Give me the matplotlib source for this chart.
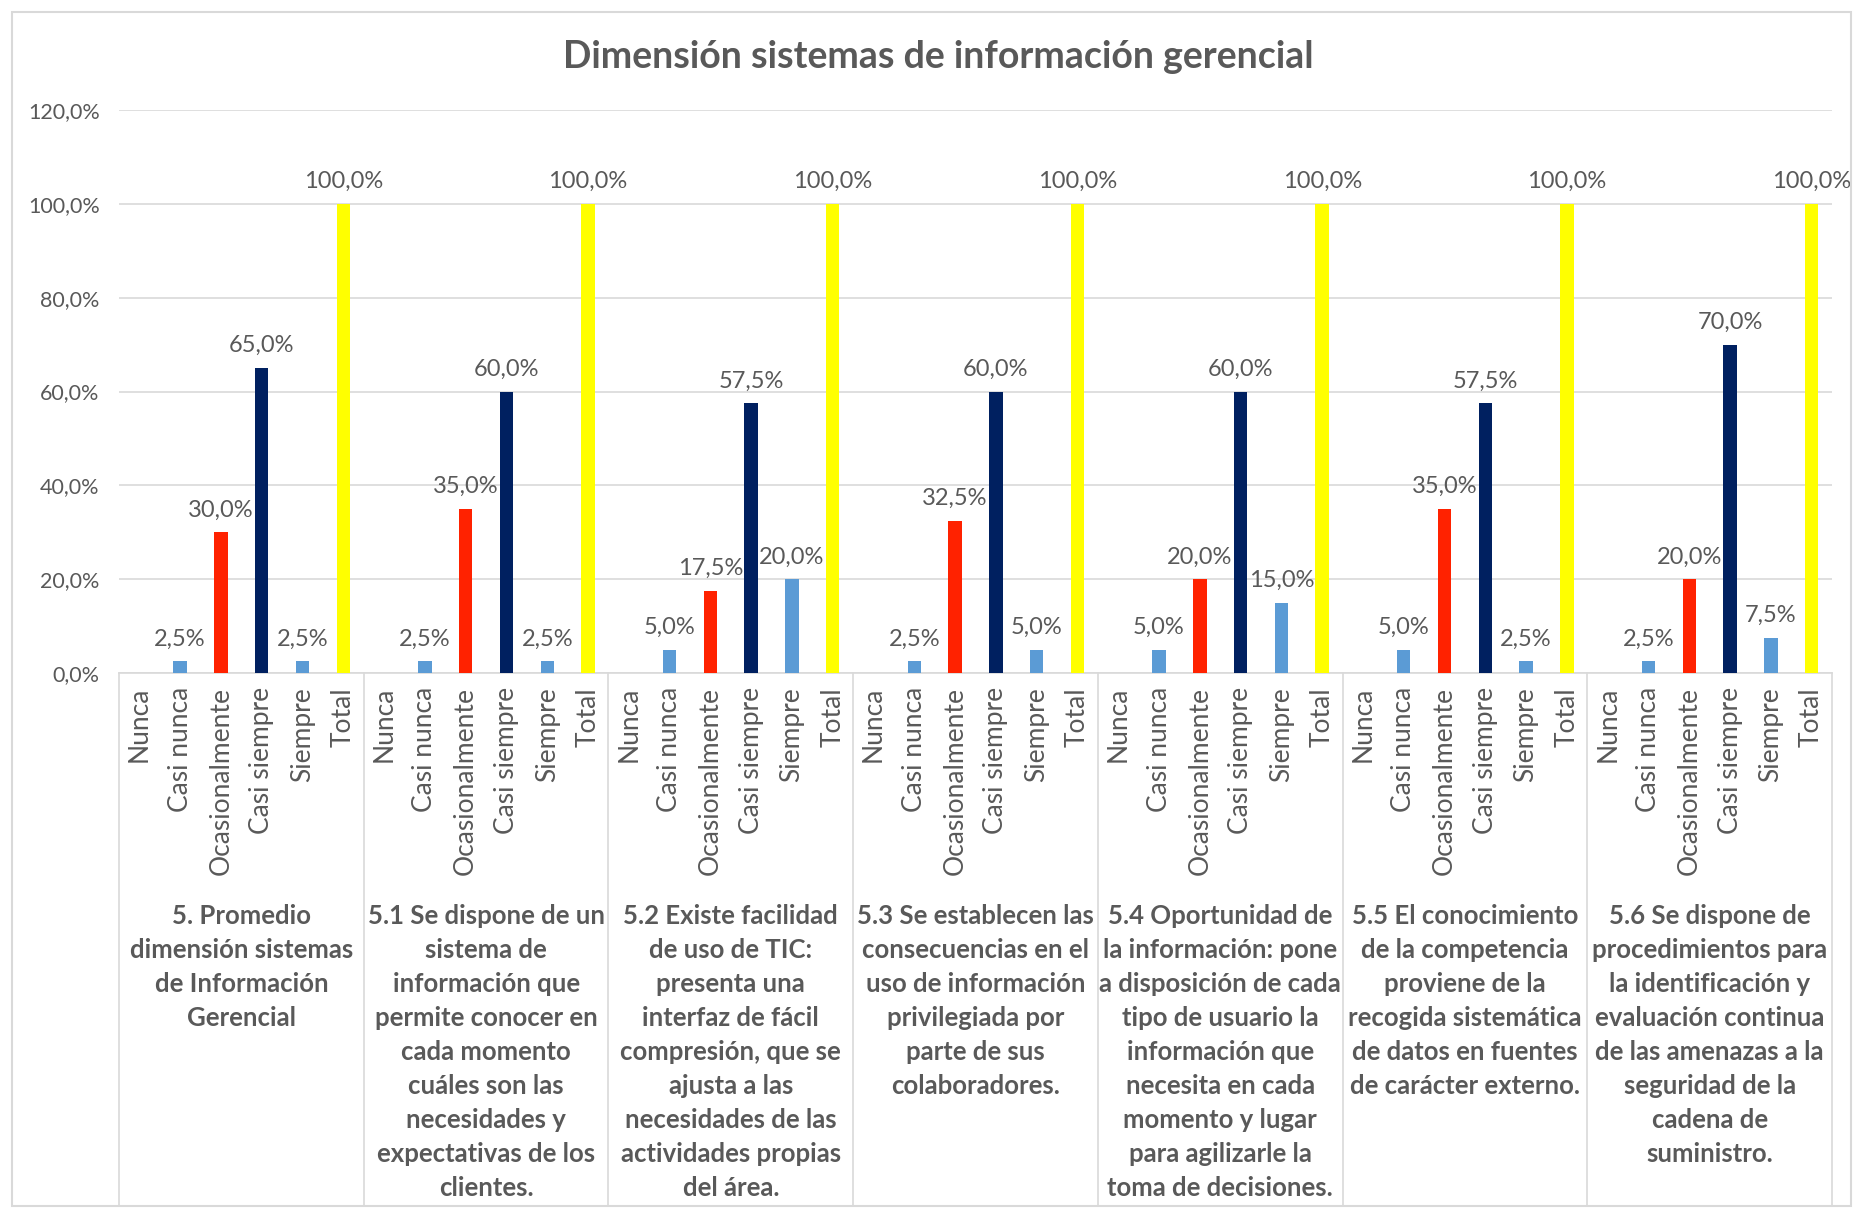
import matplotlib
matplotlib.use('agg')
import matplotlib.pyplot as plt
import matplotlib.transforms as mtransforms
from matplotlib.patches import Rectangle
import numpy as np

plt.rcParams['font.family'] = ['Lato', 'DejaVu Sans']

categories = ["Nunca", "Casi nunca", "Ocasionalmente", "Casi siempre", "Siempre", "Total"]

group_labels = [
    "5. Promedio\ndimensión sistemas\nde Información\nGerencial",
    "5.1 Se dispone de un\nsistema de\ninformación que\npermite conocer en\ncada momento\ncuáles son las\nnecesidades y\nexpectativas de los\nclientes.",
    "5.2 Existe facilidad\nde uso de TIC:\npresenta una\ninterfaz de fácil\ncompresión, que se\najusta a las\nnecesidades de las\nactividades propias\ndel área.",
    "5.3 Se establecen las\nconsecuencias en el\nuso de información\nprivilegiada por\nparte de sus\ncolaboradores.",
    "5.4 Oportunidad de\nla información: pone\na disposición de cada\ntipo de usuario la\ninformación que\nnecesita en cada\nmomento y lugar\npara agilizarle la\ntoma de decisiones.",
    "5.5 El conocimiento\nde la competencia\nproviene de la\nrecogida sistemática\nde datos en fuentes\nde carácter externo.",
    "5.6 Se dispone de\nprocedimientos para\nla identificación y\nevaluación continua\nde las amenazas a la\nseguridad de la\ncadena de\nsuministro.",
]

# porcentajes por item: Nunca, Casi nunca, Ocasionalmente, Casi siempre, Siempre, Total
promedio = [0, 2.5, 30.0, 65.0, 2.5, 100.0]
item_5_1 = [0, 2.5, 35.0, 60.0, 2.5, 100.0]
item_5_2 = [0, 5.0, 17.5, 57.5, 20.0, 100.0]
item_5_3 = [0, 2.5, 32.5, 60.0, 5.0, 100.0]
item_5_4 = [0, 5.0, 20.0, 60.0, 15.0, 100.0]
item_5_5 = [0, 5.0, 35.0, 57.5, 2.5, 100.0]
item_5_6 = [0, 2.5, 20.0, 70.0, 7.5, 100.0]
groups = [promedio, item_5_1, item_5_2, item_5_3, item_5_4, item_5_5, item_5_6]

bar_colors = ["#5B9BD5", "#5B9BD5", "#FF2200", "#002060", "#5B9BD5", "#FFFF00"]
text_color = "#595959"
grid_color = "#D9D9D9"


def pct(v):
    return f"{v:.1f}%".replace('.', ',')


W, H = 1863, 1213
fig = plt.figure(figsize=(W / 100, H / 100), dpi=100)
ax = fig.add_axes([119 / W, 1 - 673 / H, (1832 - 119) / W, (673 - 110) / H])

n = len(categories)
for g, vals in enumerate(groups):
    x = g * n + np.arange(n)
    ax.bar(x, vals, width=0.33, color=bar_colors, zorder=3)
    for xi, v in zip(x, vals):
        if v > 0:
            ax.annotate(pct(v), (xi, v), xytext=(0, 8.5), textcoords='offset points',
                        ha='center', va='bottom', fontsize=17, color=text_color, zorder=4)

ax.set_xlim(-0.5, len(groups) * n - 0.5)
ax.set_ylim(0, 120)
ax.set_yticks(np.arange(0, 121, 20))
ax.set_yticklabels([pct(v) for v in np.arange(0, 121, 20)], fontsize=15.5, color=text_color)
ax.set_xticks(np.arange(len(groups) * n))
ax.set_xticklabels(categories * len(groups), rotation=90, fontsize=19, color=text_color)
ax.tick_params(axis='y', length=0, pad=14)
ax.tick_params(axis='x', length=0, pad=10)
ax.grid(axis='y', color=grid_color, linewidth=1.2, zorder=0)
for s in ['top', 'right', 'left']:
    ax.spines[s].set_visible(False)
ax.spines['bottom'].set_color(grid_color)
ax.spines['bottom'].set_linewidth(1.2)

# separadores de grupo y etiquetas de cada item
trans = mtransforms.blended_transform_factory(ax.transData, ax.transAxes)
for k in range(len(groups) + 1):
    b = k * n - 0.5
    ax.plot([b, b], [0, -0.947], transform=trans, clip_on=False, color=grid_color, lw=1.2)
for g, lab in enumerate(group_labels):
    ax.text(g * n + (n - 1) / 2, -0.41, lab, transform=trans, ha='center', va='top',
            fontsize=18.5, fontweight='bold', color=text_color, linespacing=1.5)

fig.text(938 / W, 1 - 57 / H, "Dimensión sistemas de información gerencial",
         ha='center', va='center', fontsize=27, fontweight='bold', color=text_color)
fig.add_artist(Rectangle((12 / W, 1 - 1206 / H), (1851 - 12) / W, (1206 - 12) / H,
                         transform=fig.transFigure, fill=False, edgecolor=grid_color, lw=1.5))

fig.savefig('out.png', dpi=100, facecolor='white')
